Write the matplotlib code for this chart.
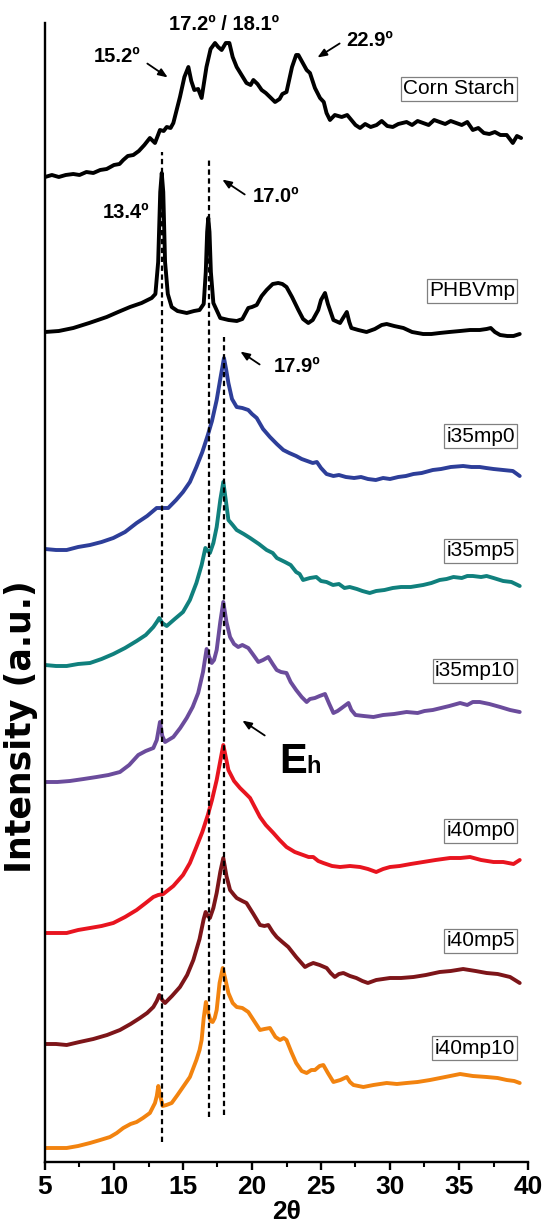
import matplotlib.pyplot as plt

plt.rcParams['font.family'] = ['Liberation Sans', 'DejaVu Sans']

# (2theta, intensity a.u.) pairs; the patterns are stacked with offsets
corn = [(5.0, 0), (5.5, 2), (6.0, 0), (6.5, 2), (7.05, 3), (7.5, 2), (8.0, 5), (8.5, 4), (9.0, 7),
        (9.47, 8), (10.0, 12), (10.4, 13), (10.67, 17), (11.0, 21), (11.4, 22), (11.8, 26), (12.2, 32),
        (12.6, 39), (12.97, 34), (13.33, 47), (13.6, 46), (13.82, 50), (14.1, 49), (14.3, 54),
        (14.78, 80), (15.1, 100), (15.39, 110), (15.6, 96), (15.82, 87), (16.1, 88), (16.35, 79),
        (16.7, 110), (17.0, 128), (17.32, 134), (17.55, 130), (17.8, 127), (18.1, 134), (18.36, 134),
        (18.6, 120), (18.89, 110), (19.2, 103), (19.6, 94), (19.9, 92), (20.1, 97), (20.4, 93),
        (20.7, 87), (21.0, 84), (21.3, 80), (21.67, 75), (22.0, 78), (22.2, 83), (22.5, 85),
        (22.9, 110), (23.2, 122), (23.36, 122), (23.6, 116), (23.96, 107), (24.2, 104), (24.56, 89),
        (24.93, 79), (25.2, 75), (25.4, 64), (25.65, 57), (26.0, 62), (26.5, 60), (26.9, 62),
        (27.2, 57), (27.5, 52), (27.83, 49), (28.2, 53), (28.6, 50), (29.03, 52), (29.4, 56),
        (29.8, 51), (30.2, 50), (30.6, 53), (31.2, 55), (31.6, 52), (32.0, 56), (32.4, 54),
        (32.8, 52), (33.2, 57), (33.6, 55), (34.0, 53), (34.4, 56), (34.8, 54), (35.2, 52),
        (35.6, 55), (36.0, 47), (36.4, 49), (36.8, 44), (37.2, 43), (37.6, 45), (38.0, 42),
        (38.46, 42), (38.9, 34), (39.2, 41), (39.5, 39)]

phbv = [(5.0, 0), (6.0, 1), (7.05, 4), (8.2, 9), (9.47, 15), (10.3, 20), (11.16, 25), (12.0, 29),
        (12.73, 34), (13.0, 38), (13.2, 70), (13.35, 140), (13.46, 159), (13.57, 140), (13.7, 70),
        (13.9, 38), (14.18, 25), (14.6, 21), (15.27, 19), (15.8, 21), (16.2, 22), (16.5, 28),
        (16.65, 60), (16.75, 100), (16.83, 114), (16.92, 100), (17.02, 60), (17.2, 29), (17.7, 14),
        (18.3, 12), (18.9, 11), (19.3, 13), (19.73, 24), (20.0, 25), (20.34, 27), (20.7, 36),
        (21.06, 42), (21.5, 48), (21.9, 49), (22.2, 48), (22.5, 45), (22.9, 35), (23.36, 22),
        (23.7, 13), (24.08, 9), (24.4, 12), (24.8, 22), (25.0, 32), (25.29, 39), (25.5, 28),
        (25.9, 12), (26.38, 9), (26.6, 14), (26.87, 20), (27.05, 10), (27.2, 4), (27.7, 2),
        (28.3, 0), (28.9, 3), (29.4, 7), (29.76, 8), (30.3, 6), (30.97, 4), (31.6, 0), (32.4, -2),
        (33.0, -2), (33.6, -1), (34.3, 0), (35.08, 1), (35.8, 2), (36.5, 2), (37.0, 3), (37.3, 4),
        (37.6, 0), (37.98, -3), (38.5, -4), (38.95, -4), (39.4, -2)]

i35mp0 = [(5.0, 0), (5.8, -1), (6.57, -1), (7.4, 2), (8.26, 4), (9.1, 7), (9.95, 11), (10.8, 17),
          (11.64, 26), (12.4, 33), (13.09, 41), (13.5, 41), (13.93, 41), (14.5, 49), (15.0, 57),
          (15.5, 67), (15.97, 82), (16.4, 97), (16.8, 114), (17.1, 128), (17.44, 149), (17.7, 170),
          (17.97, 191), (18.12, 180), (18.29, 166), (18.55, 150), (18.89, 142), (19.3, 141),
          (19.73, 139), (20.0, 135), (20.34, 131), (20.8, 120), (21.3, 112), (21.8, 105),
          (22.27, 99), (22.7, 96), (23.2, 93), (23.6, 90), (24.0, 88), (24.4, 86), (24.7, 87),
          (25.0, 81), (25.4, 75), (25.9, 73), (26.3, 74), (26.8, 72), (27.4, 71), (27.9, 72),
          (28.4, 70), (28.97, 69), (29.5, 71), (30.0, 70), (30.6, 72), (31.15, 73), (31.7, 75),
          (32.3, 76), (33.1, 79), (33.7, 80), (34.4, 82), (35.3, 83), (35.9, 82), (36.5, 82),
          (36.97, 81), (37.5, 80), (38.2, 79), (38.9, 78), (39.4, 73)]

i35mp5 = [(5.0, 0), (5.8, -1), (6.57, -1), (7.4, 1), (8.26, 2), (9.1, 6), (9.95, 11), (10.8, 17),
          (11.64, 24), (12.3, 30), (12.85, 38), (13.1, 43), (13.28, 47), (13.5, 42), (13.82, 39),
          (14.4, 46), (15.0, 53), (15.5, 65), (15.97, 82), (16.35, 100), (16.62, 117), (16.8, 114),
          (16.95, 112), (17.2, 122), (17.44, 138), (17.7, 165), (17.92, 183), (18.1, 165),
          (18.29, 145), (18.6, 140), (18.89, 135), (19.4, 131), (19.86, 127), (20.5, 121),
          (21.06, 115), (21.5, 112), (21.8, 107), (22.39, 103), (22.8, 100), (23.2, 93),
          (23.45, 91), (23.7, 85), (24.2, 87), (24.66, 88), (25.0, 84), (25.4, 83), (25.87, 80),
          (26.3, 81), (26.7, 77), (27.08, 78), (27.6, 76), (28.0, 74), (28.53, 72), (29.0, 74),
          (29.6, 75), (30.2, 77), (30.8, 78), (31.5, 78), (32.4, 80), (33.0, 82), (33.6, 85),
          (34.1, 86), (34.6, 88), (35.2, 87), (35.6, 89), (36.0, 89), (36.6, 88), (37.0, 89),
          (37.5, 87), (38.2, 84), (38.8, 83), (39.4, 79)]

i35mp10 = [(5.0, 0), (5.9, 0), (6.8, 1), (7.8, 3), (8.74, 5), (9.6, 7), (10.43, 10), (11.1, 17),
           (11.76, 27), (12.3, 31), (12.85, 34), (13.1, 42), (13.33, 60), (13.5, 46), (13.7, 40),
           (14.3, 45), (14.8, 54), (15.27, 64), (15.7, 75), (16.1, 89), (16.45, 110), (16.71, 133),
           (16.9, 125), (17.08, 119), (17.25, 122), (17.44, 132), (17.7, 160), (17.92, 180),
           (18.15, 160), (18.41, 145), (18.7, 138), (19.0, 135), (19.3, 137), (19.73, 134),
           (20.1, 127), (20.46, 120), (20.8, 122), (21.18, 125), (21.5, 118), (21.79, 112),
           (22.1, 110), (22.5, 109), (22.8, 100), (23.2, 92), (23.6, 85), (23.96, 80), (24.2, 83),
           (24.56, 84), (24.9, 86), (25.29, 88), (25.6, 78), (25.9, 69), (26.2, 71), (26.5, 74),
           (26.99, 79), (27.2, 72), (27.5, 67), (28.1, 66), (28.8, 65), (29.5, 67), (30.3, 68),
           (31.2, 70), (32.0, 69), (32.5, 71), (33.1, 72), (33.7, 74), (34.3, 76), (35.08, 79),
           (35.6, 77), (36.0, 80), (36.5, 80), (37.2, 78), (37.98, 75), (38.7, 72), (39.4, 70)]

i40mp0 = [(5.0, 0), (5.8, 0), (6.57, 0), (7.4, 3), (8.26, 5), (9.1, 7), (9.95, 10), (10.8, 16),
          (11.64, 23), (12.3, 30), (12.85, 36), (13.2, 38), (13.57, 39), (14.3, 47), (15.0, 58),
          (15.5, 70), (15.97, 86), (16.4, 101), (16.8, 118), (17.1, 133), (17.44, 153), (17.7, 172),
          (17.92, 188), (18.1, 176), (18.29, 163), (18.7, 152), (19.13, 145), (19.5, 140),
          (19.86, 135), (20.2, 126), (20.58, 116), (21.0, 108), (21.55, 100), (22.0, 93),
          (22.5, 86), (23.1, 81), (23.7, 78), (24.1, 76), (24.44, 76), (24.8, 72), (25.17, 70),
          (25.8, 67), (26.38, 66), (27.1, 67), (27.83, 66), (28.4, 64), (29.0, 61), (29.5, 64),
          (30.0, 66), (30.7, 67), (31.5, 69), (32.4, 71), (33.3, 73), (34.35, 75), (35.1, 75),
          (35.8, 76), (36.6, 73), (37.5, 71), (38.2, 71), (38.95, 69), (39.4, 73)]

i40mp5 = [(5.0, 0), (5.8, 0), (6.57, -1), (7.5, 2), (8.5, 5), (9.5, 9), (10.43, 14), (11.2, 20),
          (11.88, 26), (12.4, 31), (12.85, 37), (13.1, 43), (13.28, 49), (13.5, 44), (13.7, 41),
          (14.2, 48), (14.78, 57), (15.3, 69), (15.75, 84), (16.2, 105), (16.5, 125), (16.64, 132),
          (16.8, 128), (16.95, 126), (17.2, 136), (17.44, 151), (17.7, 172), (17.92, 186),
          (18.15, 168), (18.41, 154), (18.7, 149), (18.89, 146), (19.3, 143), (19.6, 141),
          (20.1, 130), (20.58, 119), (20.9, 118), (21.18, 119), (21.5, 112), (21.79, 107),
          (22.2, 102), (22.63, 97), (23.2, 87), (23.84, 77), (24.1, 79), (24.44, 81), (24.9, 79),
          (25.41, 76), (25.7, 71), (26.0, 67), (26.3, 70), (26.62, 71), (27.1, 68), (27.56, 66),
          (28.0, 63), (28.4, 61), (29.0, 64), (29.5, 65), (30.0, 66), (30.8, 66), (31.7, 67),
          (32.6, 69), (33.6, 72), (34.4, 73), (35.3, 75), (36.2, 73), (37.0, 71), (37.8, 70),
          (38.7, 67), (39.4, 61)]

i40mp10 = [(5.0, 0), (5.8, 0), (6.57, 0), (7.4, 2), (8.26, 5), (9.0, 8), (9.71, 11), (10.2, 15),
           (10.67, 20), (11.2, 24), (11.64, 26), (12.1, 30), (12.6, 35), (12.97, 45), (13.1, 52),
           (13.21, 62), (13.35, 52), (13.53, 42), (13.8, 43), (14.18, 45), (14.6, 53), (15.0, 61),
           (15.5, 71), (15.97, 88), (16.2, 98), (16.35, 108), (16.5, 130), (16.66, 146),
           (16.85, 134), (17.0, 127), (17.15, 126), (17.3, 130), (17.44, 138), (17.65, 165),
           (17.88, 180), (18.05, 170), (18.29, 155), (18.6, 145), (18.89, 141), (19.3, 140),
           (19.73, 136), (20.2, 126), (20.58, 118), (20.9, 119), (21.3, 120), (21.7, 111),
           (22.03, 108), (22.3, 110), (22.5, 108), (22.85, 96), (23.2, 85), (23.6, 77), (23.96, 75),
           (24.3, 78), (24.56, 78), (24.9, 82), (25.17, 83), (25.5, 75), (25.9, 66), (26.4, 68),
           (26.87, 71), (27.1, 66), (27.35, 63), (28.07, 61), (28.8, 63), (29.76, 65), (30.5, 64),
           (31.2, 65), (32.0, 66), (32.9, 68), (34.0, 71), (35.08, 74), (36.0, 72), (37.0, 71),
           (37.8, 70), (38.46, 68), (39.0, 67), (39.4, 65)]

names = ['Corn Starch', 'PHBVmp', 'i35mp0', 'i35mp5', 'i35mp10', 'i40mp0', 'i40mp5', 'i40mp10']
patterns = [corn, phbv, i35mp0, i35mp5, i35mp10, i40mp0, i40mp5, i40mp10]
offsets = [985, 830, 613, 497, 380, 229, 118, 14]
colors = ['black', 'black', '#2d3e99', '#10807d', '#6b4c9c', '#e8141f', '#7d1519', '#f2830f']
label_y = [1073, 871, 726, 611, 491, 331, 221, 114]

# reference peak positions (dashed guide lines)
peak_pos = [13.45, 16.85, 18.0]
peak_lo = [20, 45, 47]
peak_hi = [1010, 1005, 825]

fig = plt.figure(figsize=(5.45, 12.3), dpi=100)
ax = fig.add_axes([45 / 545, 68 / 1230, 483 / 545, 1139 / 1230])

for pat, off, c in zip(patterns, offsets, colors):
    tt = [p[0] for p in pat]
    ii = [p[1] + off for p in pat]
    ax.plot(tt, ii, color=c, lw=2.8, solid_joinstyle='round', solid_capstyle='round')

for p, lo, hi in zip(peak_pos, peak_lo, peak_hi):
    ax.plot([p, p], [lo, hi], color='black', lw=1.6, ls=(0, (2.4, 1.6)))

for name, ly in zip(names, label_y):
    ax.text(39.05, ly, name, ha='right', va='center', fontsize=15,
            bbox=dict(boxstyle='square,pad=0.1', fc='white', ec='#808080', lw=0.9))

# peak annotations
arrow = dict(arrowstyle='-|>,head_length=0.55,head_width=0.22', color='black', lw=1.3)
fs = 14.5
ax.text(10.22, 1106, '15.2º', ha='center', va='center', fontsize=fs, fontweight='bold')
ax.annotate('', xy=(14.06, 1083), xytext=(12.25, 1100), arrowprops=arrow)
ax.text(17.97, 1137, '17.2º / 18.1º', ha='center', va='center', fontsize=fs, fontweight='bold')
ax.text(28.55, 1121, '22.9º', ha='center', va='center', fontsize=fs, fontweight='bold')
ax.annotate('', xy=(24.57, 1103), xytext=(26.52, 1120), arrowprops=arrow)
ax.text(10.87, 949, '13.4º', ha='center', va='center', fontsize=fs, fontweight='bold')
ax.text(21.74, 965, '17.0º', ha='center', va='center', fontsize=fs, fontweight='bold')
ax.annotate('', xy=(17.68, 984), xytext=(19.64, 966), arrowprops=arrow)
ax.text(23.26, 796, '17.9º', ha='center', va='center', fontsize=fs, fontweight='bold')
ax.annotate('', xy=(18.99, 812), xytext=(20.72, 796), arrowprops=arrow)
ax.text(22.0, 389, 'E', ha='left', va='baseline', fontsize=30, fontweight='bold')
ax.text(23.95, 389, 'h', ha='left', va='baseline', fontsize=17, fontweight='bold')
ax.annotate('', xy=(19.13, 443), xytext=(21.09, 425), arrowprops=arrow)

ax.set_xlim(5, 40)
ax.set_ylim(0, 1139)
ax.set_xticks([5, 10, 15, 20, 25, 30, 35, 40])
ax.set_xticks([7.5, 12.5, 17.5, 22.5, 27.5, 32.5, 37.5], minor=True)
ax.set_yticks([])
ax.spines['top'].set_visible(False)
ax.spines['right'].set_visible(False)
ax.spines['left'].set_linewidth(1.7)
ax.spines['bottom'].set_linewidth(1.7)
ax.tick_params(axis='x', which='major', length=6, width=1.7, labelsize=19, pad=3)
ax.tick_params(axis='x', which='minor', length=3.5, width=1.5)
for lab in ax.get_xticklabels():
    lab.set_fontweight('bold')

fig.text(287 / 545, 18 / 1230, '2θ', ha='center', va='center', fontsize=19, fontweight='bold')
fig.text(21 / 545, 503 / 1230, 'Intensity (a.u.)', ha='center', va='center', rotation=90,
         fontsize=25, fontweight='bold', family='DejaVu Sans')

fig.savefig('out.png', dpi=100)
